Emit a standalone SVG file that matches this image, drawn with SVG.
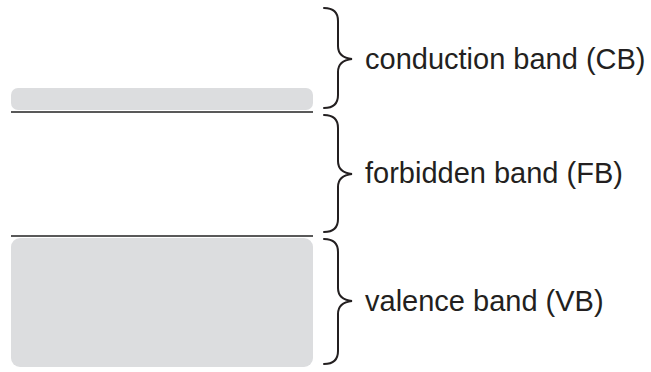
<svg xmlns="http://www.w3.org/2000/svg" width="651" height="372" viewBox="0 0 651 372">
<style>
.band{fill:#dcdddf}
.edge{stroke:#595959;stroke-width:2;fill:none}
.brace{stroke:#231f20;stroke-width:2;fill:none;stroke-linecap:round}
.lbl{font-family:"Liberation Sans",Arial,sans-serif;font-size:29px;fill:#231f20}
</style>
<rect width="651" height="372" fill="#ffffff"/>
<g id="cb">
<rect class="band" x="11" y="88" width="302" height="22" rx="7"/>
<path class="brace" d="M324,8 C333,8 338,12 338,21 L338,46 C338,54 343,58 352,59 C343,60 338,64 338,72 L338,95 C338,104 333,108 324,108"/>
<text class="lbl" x="365" y="69">conduction band (CB)</text>
</g>
<g id="fb">
<path class="brace" d="M324,115 C333,115 338,119 338,128 L338,161 C338,169 343,173 352,174 C343,175 338,179 338,187 L338,219 C338,228 333,232 324,232"/>
<text class="lbl" x="365" y="183">forbidden band (FB)</text>
</g>
<g id="vb">
<rect class="band" x="11" y="238" width="302" height="129" rx="9"/>
<path class="brace" d="M324,239 C333,239 338,243 338,252 L338,288 C338,296 343,300 352,301 C343,302 338,306 338,314 L338,351 C338,360 333,364 324,364"/>
<text class="lbl" x="365" y="311">valence band (VB)</text>
</g>
<g id="connectors">
<line class="edge" x1="11" y1="112" x2="313" y2="112"/>
<line class="edge" x1="11" y1="236" x2="313" y2="236"/>
</g>
</svg>
